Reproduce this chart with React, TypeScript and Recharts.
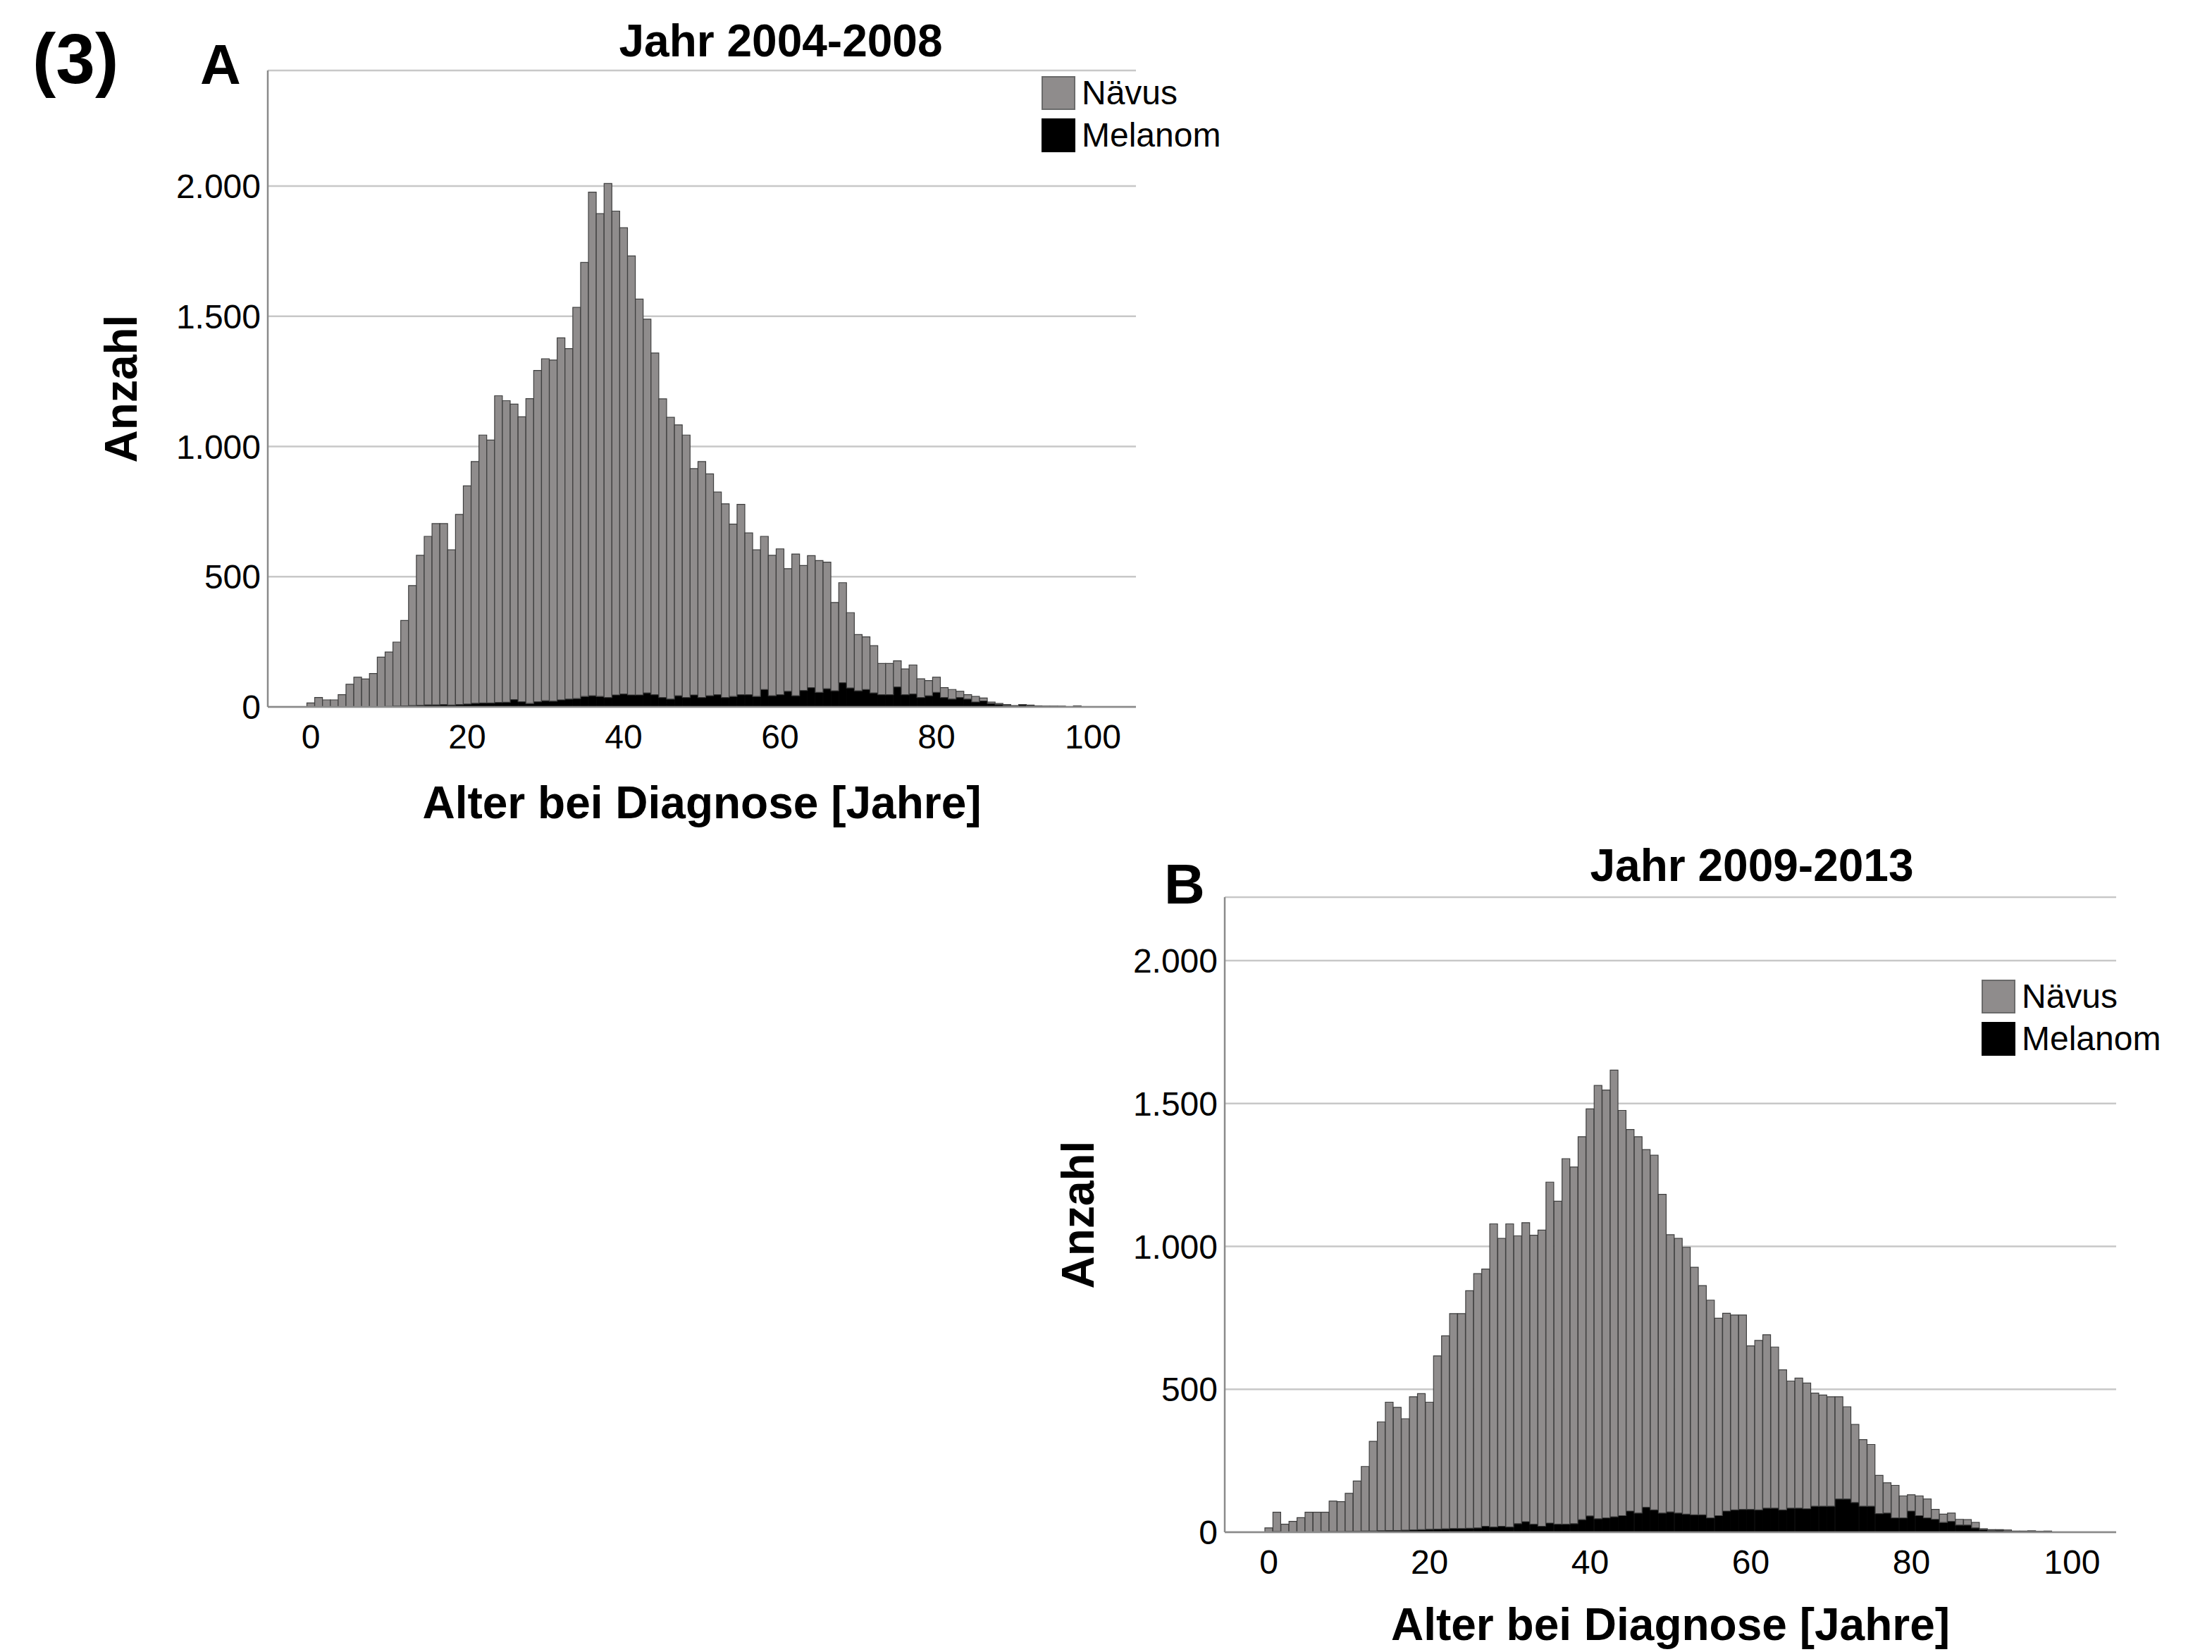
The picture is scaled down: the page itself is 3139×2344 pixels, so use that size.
import React from "react";
import { Bar, BarChart, CartesianGrid, Label, Legend, XAxis, YAxis } from "recharts";

const FONT = '"Liberation Sans", Arial, sans-serif';
const GRAY = "#8f8c8c";

// Altersklassen (1 Jahr), mit leeren Rändern links/rechts wie im SPSS-Histogramm
const ages = Array.from({ length: 111 }, (_, i) => i - 5);
const xTickLabels = [0, 20, 40, 60, 80, 100];
const yTicks = [0, 500, 1000, 1500, 2000];

// Jahr 2004-2008, Index = Alter 0..100
const naevusA = [
  15, 36, 27, 27, 47, 87, 113, 107, 127, 190,
  209, 246, 328, 461, 576, 647, 696, 695, 596, 730,
  838, 928, 1029, 1010, 1178, 1158, 1135, 1094, 1171, 1272,
  1313, 1310, 1390, 1346, 1502, 1667, 1934, 1854, 1974, 1858,
  1790, 1686, 1520, 1435, 1312, 1147, 1082, 1040, 1008, 869,
  906, 852, 778, 744, 662, 731, 621, 563, 588, 539,
  560, 471, 544, 480, 507, 506, 486, 339, 384, 289,
  216, 202, 181, 120, 120, 100, 99, 111, 72, 58,
  58, 38, 37, 24, 17, 21, 11, 6, 4, 4,
  2, 1, 3, 2, 1, 1, 2, 0, 2, 1,
  1,
];
const melanomA = [
  0, 0, 0, 0, 0, 0, 1, 0, 1, 1,
  2, 3, 4, 5, 6, 8, 8, 9, 7, 9,
  11, 14, 15, 15, 17, 18, 28, 20, 13, 20,
  24, 22, 27, 30, 32, 40, 43, 40, 36, 46,
  50, 46, 46, 54, 47, 36, 30, 43, 36, 46,
  36, 43, 47, 36, 40, 47, 47, 40, 67, 43,
  47, 60, 43, 63, 74, 56, 70, 62, 93, 73,
  62, 67, 54, 47, 47, 77, 47, 50, 36, 43,
  56, 36, 30, 36, 30, 19, 23, 13, 9, 5,
  3, 8, 4, 2, 2, 2, 1, 1, 2, 0,
  0,
];

// Jahr 2009-2013
const naevusB = [
  15, 68, 27, 37, 50, 69, 69, 68, 107, 105,
  133, 176, 226, 314, 381, 449, 431, 390, 466, 476,
  445, 606, 675, 752, 752, 831, 890, 900, 1061, 1007,
  1061, 1007, 1046, 1011, 1036, 1193, 1130, 1279, 1248, 1340,
  1424, 1516, 1497, 1563, 1418, 1335, 1317, 1252, 1241, 1115,
  970, 961, 934, 866, 802, 762, 691, 692, 682, 680,
  572, 593, 607, 564, 490, 445, 455, 440, 396, 389,
  383, 358, 323, 273, 233, 216, 134, 106, 114, 77,
  57, 69, 66, 35, 29, 29, 20, 19, 19, 3,
  4, 3, 4, 1, 2, 2, 1, 2, 0, 0,
  0,
];
const melanomB = [
  0, 2, 1, 1, 1, 1, 1, 2, 2, 2,
  3, 3, 4, 4, 5, 6, 6, 7, 8, 9,
  10, 11, 12, 13, 13, 14, 15, 21, 18, 21,
  18, 30, 37, 28, 21, 32, 28, 28, 30, 44,
  57, 47, 50, 54, 58, 74, 67, 87, 78, 67,
  71, 67, 63, 61, 61, 50, 58, 74, 78, 80,
  80, 78, 84, 84, 78, 84, 84, 82, 91, 91,
  91, 116, 116, 104, 91, 91, 65, 67, 50, 50,
  74, 58, 50, 45, 34, 38, 25, 25, 15, 9,
  5, 6, 4, 3, 2, 3, 2, 2, 1, 0,
  0,
];

const buildRows = (naevus: number[], melanom: number[]) =>
  ages.map((age) => ({
    age,
    naevus: age >= 0 && age < naevus.length ? naevus[age] : 0,
    melanom: age >= 0 && age < melanom.length ? melanom[age] : 0,
  }));

const fmtDe = (v: number) =>
  v >= 1000 ? `${Math.floor(v / 1000)}.${String(v % 1000).padStart(3, "0")}` : String(v);

const AgeTick = (props: any) => {
  const { x, y, payload } = props;
  if (!xTickLabels.includes(Number(payload.value))) return <g />;
  return (
    <text x={x} y={y + 42} textAnchor="middle" dominantBaseline="central"
      fill="#000" fontSize={48} fontFamily={FONT}>
      {payload.value}
    </text>
  );
};

const makeXTitle = (dy: number) => (props: any) => {
  const vb = props.viewBox;
  return (
    <text x={vb.x + vb.width / 2} y={vb.y + dy} textAnchor="middle" dominantBaseline="central"
      fontSize={64} fontWeight="bold" fontFamily={FONT} fill="#000">
      Alter bei Diagnose [Jahre]
    </text>
  );
};

const YTitle = (props: any) => {
  const vb = props.viewBox;
  const cx = vb.x + vb.width - 208;
  const cy = vb.y + vb.height / 2;
  return (
    <text x={cx} y={cy} transform={`rotate(-90, ${cx}, ${cy})`} textAnchor="middle"
      dominantBaseline="central" fontSize={64} fontWeight="bold" fontFamily={FONT} fill="#000">
      Anzahl
    </text>
  );
};

const LegendBox = () => (
  <div style={{ display: "flex", flexDirection: "column", gap: 12, fontFamily: FONT }}>
    {[
      { name: "Nävus", fill: GRAY, border: "#6a6a6a" },
      { name: "Melanom", fill: "#000", border: "#000" },
    ].map((it) => (
      <div key={it.name} style={{ display: "flex", alignItems: "center", height: 48 }}>
        <div style={{ width: 48, height: 48, boxSizing: "border-box", background: it.fill, border: `2px solid ${it.border}` }} />
        <span style={{ marginLeft: 9, fontSize: 48, lineHeight: "48px", color: "#000" }}>{it.name}</span>
      </div>
    ))}
  </div>
);

interface HistProps {
  naevus: number[];
  melanom: number[];
  width: number;
  height: number;
  margin: { top: number; right: number; bottom: number; left: number };
  yMax: number;
  legendAt: { left: number; top: number };
  xTitleDy: number;
}

function Histogram({ naevus, melanom, width, height, margin, yMax, legendAt, xTitleDy }: HistProps) {
  const rows = buildRows(naevus, melanom);
  return (
    <BarChart width={width} height={height} data={rows} margin={margin} barCategoryGap={0} barGap={0}>
      <CartesianGrid vertical={false} stroke="#c8c8c8" strokeWidth={2.5} />
      <XAxis dataKey="age" type="category" interval={0} tickLine={false} tickSize={0} tickMargin={0}
        height={60} stroke="#8a8a8a" strokeWidth={2.5} tick={AgeTick}>
        <Label content={makeXTitle(xTitleDy)} />
      </XAxis>
      <YAxis type="number" domain={[0, yMax]} allowDataOverflow ticks={yTicks} width={120}
        tickLine={false} tickSize={0} tickMargin={10} stroke="#8a8a8a" strokeWidth={2.5}
        tick={{ fill: "#000", fontSize: 48, fontFamily: FONT }} tickFormatter={fmtDe}>
        <Label content={YTitle} />
      </YAxis>
      <Legend layout="vertical" align="center" verticalAlign="middle"
        wrapperStyle={{ left: legendAt.left, top: legendAt.top, width: 420, height: 120 }}
        content={() => <LegendBox />} />
      <Bar dataKey="melanom" name="Melanom" stackId="h" fill="#000" stroke="#000" strokeWidth={1}
        isAnimationActive={false} />
      <Bar dataKey="naevus" name="Nävus" stackId="h" fill={GRAY} stroke="#3f3f3f" strokeWidth={1.2}
        isAnimationActive={false} />
    </BarChart>
  );
}

const txt = (extra: React.CSSProperties): React.CSSProperties => ({
  position: "absolute",
  fontFamily: FONT,
  fontWeight: "bold",
  lineHeight: 1,
  color: "#000",
  whiteSpace: "nowrap",
  ...extra,
});

export default function App() {
  return (
    <div style={{ position: "absolute", left: 0, top: 0, width: 3139, height: 2344, background: "#fff", overflow: "hidden" }}>
      <div style={txt({ left: 46, top: 33, fontSize: 100 })}>(3)</div>
      <div style={txt({ left: 284, top: 52, fontSize: 80 })}>A</div>
      <div style={txt({ left: 708, top: 26, width: 800, textAlign: "center", fontSize: 64 })}>Jahr 2004-2008</div>
      <div style={txt({ left: 1652, top: 1215, fontSize: 80 })}>B</div>
      <div style={txt({ left: 2086, top: 1196, width: 800, textAlign: "center", fontSize: 64 })}>Jahr 2009-2013</div>

      <div style={{ position: "absolute", left: 0, top: 0 }}>
        <Histogram naevus={naevusA} melanom={melanomA} width={1800} height={1200}
          margin={{ top: 100, right: 188, bottom: 137, left: 260 }} yMax={2444}
          legendAt={{ left: 1478, top: 108 }} xTitleDy={136} />
      </div>
      <div style={{ position: "absolute", left: 1400, top: 1150 }}>
        <Histogram naevus={naevusB} melanom={melanomB} width={1739} height={1194}
          margin={{ top: 123, right: 136, bottom: 110, left: 218 }} yMax={2222}
          legendAt={{ left: 1412, top: 240 }} xTitleDy={131} />
      </div>
    </div>
  );
}
